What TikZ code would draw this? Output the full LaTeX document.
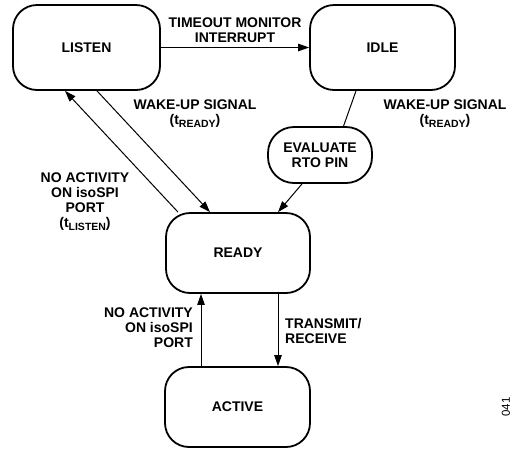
\documentclass[tikz,border=0pt]{standalone}
\usepackage{fontspec}
\setmainfont{Liberation Sans}
\usetikzlibrary{arrows.meta}
\newcommand{\subt}[1]{t\raisebox{-2.5pt}{\fontsize{10.5}{10.5}\selectfont #1}}
\begin{document}
\begin{tikzpicture}[x=1pt,y=-1pt,
  every node/.style={font=\fontsize{14}{15}\selectfont\bfseries},
  state/.style={draw, line width=1.8pt, rounded corners=24pt, inner sep=0pt},
  lbl/.style={inner sep=0pt, align=center},
  conn/.style={line width=1pt},
  arr/.style={conn, -{Triangle[length=11pt,width=7.5pt]}}]
\useasboundingbox (0,0) rectangle (518,448);
\node[state, minimum width=147pt, minimum height=85pt] (listen) at (86.5,47.5) {LISTEN};
\node[state, minimum width=145pt, minimum height=85pt] (idle) at (382.5,47.5) {IDLE};
\node[state, minimum width=104pt, minimum height=56pt, rounded corners=26pt, align=center] (eval) at (320,155) {EVALUATE\\RTO PIN};
\node[state, minimum width=144pt, minimum height=80pt] (ready) at (238,253) {READY};
\node[state, minimum width=145pt, minimum height=80pt] (active) at (237.5,407) {ACTIVE};
% connectors
\draw[arr] (listen.east) -- (idle.west);
\draw[arr] ([xshift=10.5pt]listen.south) -- ([xshift=-28pt]ready.north);
\draw[arr] ([xshift=-60pt]ready.north) -- ([xshift=-21.5pt]listen.south);
\draw[conn] ([xshift=-26.5pt]idle.south) -- ([xshift=23pt,yshift=-1.5pt]eval.north);
\draw[arr] ([xshift=-18pt]eval.south) -- ([xshift=40pt]ready.north);
\draw[arr] ([xshift=40pt]ready.south) -- ([xshift=40.5pt]active.north);
\draw[arr] ([xshift=-36.5pt]active.north) -- ([xshift=-37pt]ready.south);
% labels
\node[lbl] (l1) at (235,30) {TIMEOUT MONITOR\\INTERRUPT};
\node[lbl] (l2) at (195,114) {WAKE-UP SIGNAL\\(\subt{READY})};
\node[lbl] (l3) at (445,114) {WAKE-UP SIGNAL\\(\subt{READY})};
\node[lbl] (l4) at (85,202) {NO ACTIVITY\\ON isoSPI\\PORT\\(\subt{LISTEN})};
\node[lbl, align=right, anchor=east] (l5) at (193,328) {NO ACTIVITY\\ON isoSPI\\PORT};
\node[lbl, align=left, anchor=west] (l6) at (285,331) {TRANSMIT/\\RECEIVE};
\node[inner sep=0pt, rotate=90, font=\fontsize{11.5}{11.5}\selectfont] (num) at (506,407) {041};
\end{tikzpicture}
\end{document}
